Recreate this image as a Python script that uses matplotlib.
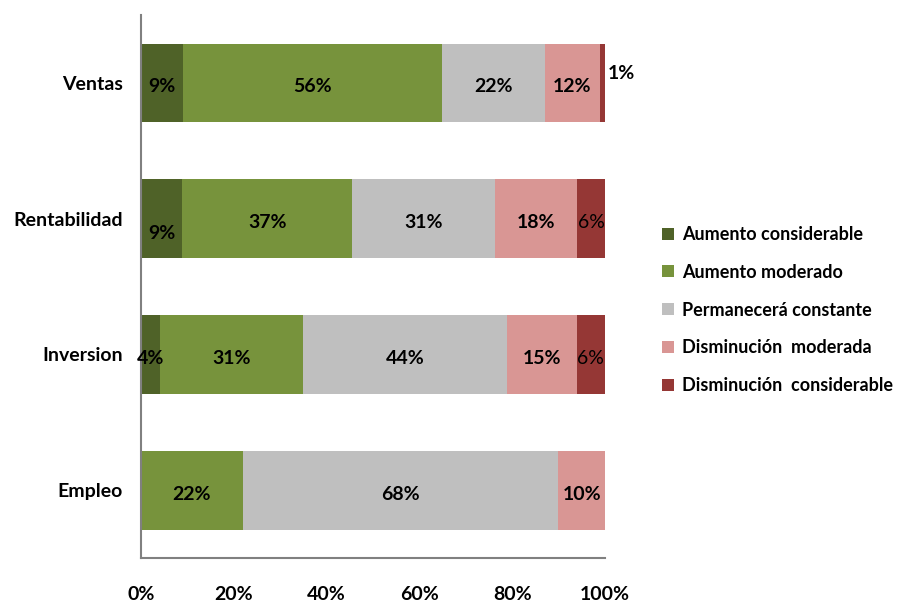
"""Expectativas por indicador: barras apiladas al 100%."""
import matplotlib.pyplot as plt
import numpy as np

plt.rcParams['font.family'] = ['Lato', 'DejaVu Sans']
plt.rcParams['font.weight'] = 'bold'

categories = ["Ventas", "Rentabilidad", "Inversion", "Empleo"]
series_names = ["Aumento considerable", "Aumento moderado", "Permanecerá constante",
                "Disminución  moderada", "Disminución  considerable"]
aumento_considerable = [9, 9, 4, 0]
aumento_moderado = [56, 37, 31, 22]
permanecera_constante = [22, 31, 44, 68]
disminucion_moderada = [12, 18, 15, 10]
disminucion_considerable = [1, 6, 6, 0]
colors = ["#4F6228", "#77933C", "#BFBFBF", "#D99694", "#953735"]
x_ticks = [0, 20, 40, 60, 80, 100]

FS = 14

values = np.array([aumento_considerable, aumento_moderado, permanecera_constante,
                   disminucion_moderada, disminucion_considerable], dtype=float)
# 100% stacked: each bar normalised to its own total
shares = values / values.sum(axis=0) * 100

fig = plt.figure(figsize=(9.06, 6.02), dpi=100)
ax = fig.add_axes([0.1556, 0.073, 0.512, 0.902])

y = np.arange(len(categories))
left = np.zeros(len(categories))
for i, name in enumerate(series_names):
    ax.barh(y, shares[i], left=left, height=0.58, color=colors[i], label=name)
    for j in range(len(categories)):
        v = values[i, j]
        if v == 0:
            continue
        cx = left[j] + shares[i, j] / 2
        cy = y[j]
        weight = 'bold'
        if i == 4 and v < 3:
            # too thin for the label: put it beside the bar
            ax.text(left[j] + shares[i, j] + 0.7, cy - 0.07, f"{v:.0f}%", ha='left',
                    va='center', fontsize=FS, fontweight='bold', color='black')
            continue
        if i == 4:
            weight = 'normal'
        if i == 0 and categories[j] == "Rentabilidad":
            cy += 0.08
        ax.text(cx, cy + 0.03, f"{v:.0f}%", ha='center', va='center', fontsize=FS,
                fontweight=weight, color='black')
    left += shares[i]

ax.set_xlim(0, 100)
ax.set_ylim(len(categories) - 0.5, -0.5)
ax.set_yticks(y)
ax.set_yticklabels(categories, fontsize=FS, fontweight='bold')
ax.set_xticks(x_ticks)
ax.set_xticklabels([f"{t}%" for t in x_ticks], fontsize=FS, fontweight='bold')
ax.tick_params(axis='both', length=0)
ax.tick_params(axis='x', pad=20)
ax.tick_params(axis='y', pad=13)
for side in ('top', 'right'):
    ax.spines[side].set_visible(False)
for side in ('left', 'bottom'):
    ax.spines[side].set_color('#808080')
    ax.spines[side].set_linewidth(1.5)

fig.legend(loc='center left', bbox_to_anchor=(0.713, 0.485), frameon=False,
           prop={'size': 13, 'weight': 'bold'}, handlelength=0.65, handleheight=0.65,
           handletextpad=0.45, labelspacing=1.15)

fig.savefig("out.png", dpi=100)
